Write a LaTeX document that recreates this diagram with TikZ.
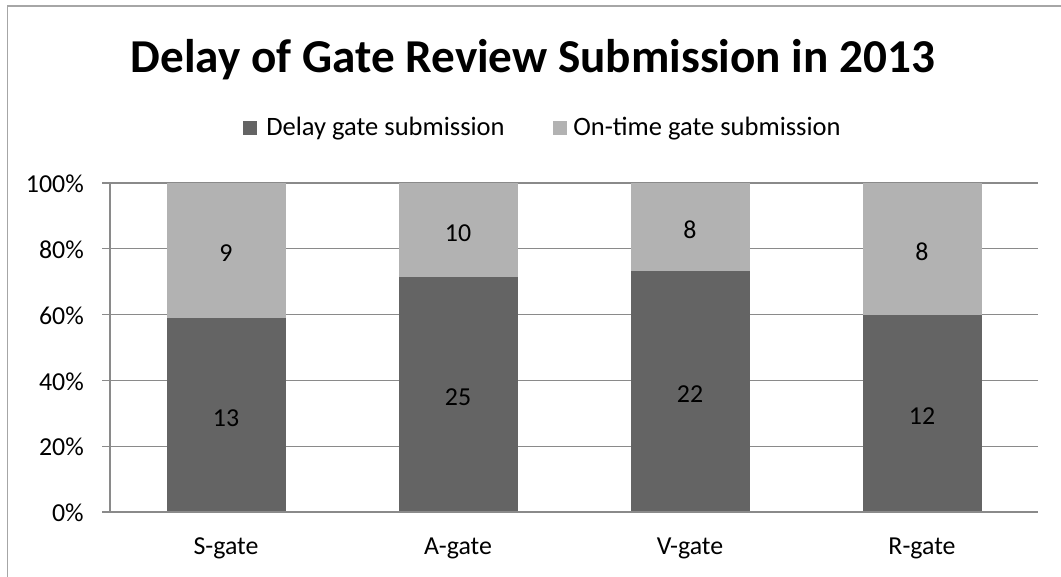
\documentclass[tikz,border=0pt]{standalone}
\usepackage{fontspec}
\setmainfont{Carlito}
\definecolor{delaygray}{HTML}{646464}
\definecolor{ontimegray}{HTML}{B2B2B2}
\definecolor{gridgray}{HTML}{8A8A8A}
\definecolor{framegray}{HTML}{A6A6A6}
\begin{document}
\begin{tikzpicture}[x=0.75pt,y=-0.75pt,
  gridline/.style={draw=gridgray,line width=0.9pt},
  delaybar/.style={fill=delaygray,draw=none},
  ontimebar/.style={fill=ontimegray,draw=none},
  axislabel/.style={font=\fontsize{19.4}{21}\selectfont,inner sep=0pt},
  valuelabel/.style={font=\fontsize{19.4}{21}\selectfont,inner sep=0pt},
  legendtext/.style={font=\fontsize{19.9}{22}\selectfont,inner sep=0pt,anchor=base west},
  legendkey/.style={minimum size=14*0.75pt,inner sep=0pt,draw=none}]
\useasboundingbox (0,0) rectangle (1061,576);
\begin{scope}
  \clip (0,0) rectangle (1061,576);
  % chart frame, running past the right and bottom edges
  \draw[framegray,line width=1.3pt] (7.5,1000) -- (7.5,6) -- (1100,6);
\end{scope}

% title
\node[font=\fontsize{35.4}{38}\selectfont\bfseries,inner sep=0pt,anchor=base] (title) at (533,72) {Delay of Gate Review Submission in 2013};

% legend
\node[legendkey,fill=delaygray] (kdelay) at (250,128) {};
\node[legendtext] (ldelay) at (266,135.5) {Delay gate submission};
\node[legendkey,fill=ontimegray] (kontime) at (559.5,128) {};
\node[legendtext] (lontime) at (573,135.5) {On-time gate submission};

% horizontal gridlines with ticks and percentage labels
\foreach \p [count=\i from 0] in {0\%,20\%,40\%,60\%,80\%,100\%} {
  \pgfmathsetmacro{\yy}{512-65.8*\i}
  \draw[gridline] (102,\yy) -- (1038,\yy);
  \node[axislabel,anchor=east] (tick\i) at (84,\yy+1) {\p};
}
% value axis
\draw[gridline] (110,183) -- (110,512);

% stacked bars: centre, delayed count, on-time count, category
\foreach \cx/\d/\o/\g in {226/13/9/S,458/25/10/A,690/22/8/V,922/12/8/R} {
  \pgfmathsetmacro{\split}{512-329*\d/(\d+\o)}
  \fill[delaybar] (\cx-59.5,512) rectangle (\cx+59.5,\split);
  \fill[ontimebar] (\cx-59.5,\split) rectangle (\cx+59.5,183.2);
  \node[valuelabel] (d\g) at (\cx,{(512+\split)/2+3}) {\d};
  \node[valuelabel] (o\g) at (\cx,{(183+\split)/2+3}) {\o};
  \node[axislabel,anchor=base] (cat\g) at (\cx,554) {\g-gate};
}
% restore the baseline over the bar bottoms
\draw[gridline] (102,512) -- (1038,512);
\end{tikzpicture}
\end{document}
